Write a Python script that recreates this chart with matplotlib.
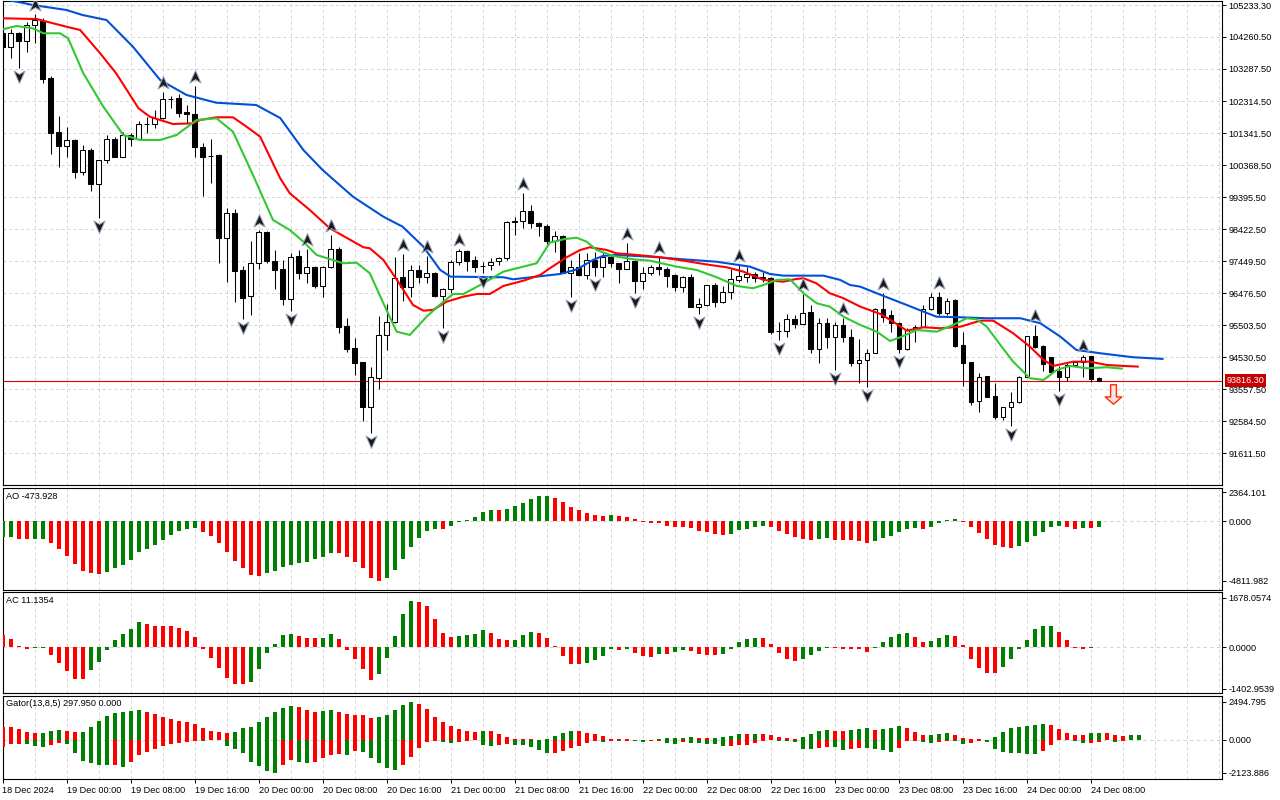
import numpy as np
import matplotlib.pyplot as plt
from matplotlib.path import Path
from matplotlib.transforms import offset_copy

plt.rcParams['font.family'] = ['Liberation Sans', 'DejaVu Sans']

# BTCUSD H1, 18 Dec 16:00 .. 24 Dec 09:00
opens = [104382, 103956, 104382, 104139, 104625, 104747, 103014, 101372, 100947, 101129,
         100157, 100825, 99791, 100521, 101160, 100612, 101281, 101160, 101605, 101615,
         101798, 102375, 102406, 101980, 101919, 100916, 100643, 100673, 98150, 98910,
         97177, 96387, 97390, 98332, 97451, 97207, 96295, 97603, 97086, 97268,
         96691, 97268, 97815, 95475, 94806, 94380, 93012, 93894, 95201, 95596,
         96964, 96660, 97177, 96964, 97086, 96387, 96599, 97420, 97755, 97481,
         97299, 97329, 97451, 97542, 98646, 98667, 98971, 98606, 98515, 98059,
         98211, 97086, 97268, 97025, 97481, 97268, 97572, 97390, 97207, 97451,
         96843, 97086, 97268, 97207, 97025, 96660, 96964, 96052, 96113, 96721,
         96204, 96508, 96873, 96964, 97055, 96944, 96934, 95323, 95323, 95687,
         95535, 95900, 94775, 95566, 95140, 95505, 95140, 94350, 94441, 94654,
         95991, 95809, 95566, 94775, 95353, 95444, 95991, 96356, 95870, 96265,
         94897, 94380, 93195, 93955, 93347, 92708, 93012, 93164, 93924, 95171,
         94867, 94532, 94107, 93924, 94289, 94380, 94563, 93894]
highs = [104473, 104503, 104412, 104716, 104959, 104838, 103075, 101859, 101524, 101160,
         100977, 100886, 100521, 101281, 101220, 101372, 101342, 101707, 101828, 102041,
         102588, 102467, 102527, 102193, 102771, 101038, 101160, 100703, 99062, 99032,
         97299, 98059, 98393, 98363, 97785, 97481, 97694, 97785, 97815, 97299,
         97299, 98241, 97876, 95718, 95110, 94380, 94228, 95779, 96143, 97572,
         97664, 97329, 97329, 97603, 97116, 96630, 97481, 97815, 97785, 97603,
         97420, 97542, 97572, 98667, 98788, 99518, 99153, 98636, 98576, 98363,
         98241, 97481, 97694, 97694, 97724, 97694, 97603, 97390, 97998, 97481,
         97268, 97329, 97572, 97268, 97055, 96995, 97055, 96326, 96721, 96782,
         96691, 97207, 97329, 97268, 97116, 97116, 96964, 95596, 95839, 95809,
         96447, 96113, 95718, 95718, 95596, 95718, 95383, 95079, 94775, 96022,
         96478, 95961, 95596, 95414, 95505, 96113, 96478, 96508, 96326, 96295,
         95292, 94380, 94046, 93955, 93742, 93012, 93468, 93955, 95171, 95505,
         94897, 94532, 94259, 94350, 94380, 94593, 94563, 93924]
lows = [103895, 103622, 103318, 103804, 104078, 102862, 100703, 100308, 100612, 99974,
        100065, 99579, 98758, 100430, 100612, 100600, 100947, 101129, 101342, 101494,
        101767, 102102, 101828, 101646, 100612, 99427, 99822, 97390, 96812, 96204,
        95687, 95809, 97207, 97390, 96599, 96113, 95931, 96903, 96782, 96630,
        96356, 97250, 95262, 94684, 93985, 92586, 92222, 93559, 94745, 95566,
        96235, 96356, 96782, 96782, 96356, 95414, 96478, 97329, 97147, 97116,
        97080, 97177, 97329, 97481, 98241, 98454, 98454, 98211, 97968, 97724,
        97086, 96356, 96995, 96903, 96995, 96964, 97268, 96782, 97207, 96478,
        96599, 97025, 97025, 96660, 96539, 96508, 96052, 95839, 96083, 96052,
        96174, 96295, 96812, 96812, 96812, 96812, 95231, 95049, 95140, 95414,
        95535, 94654, 94350, 94806, 94137, 94988, 94259, 93742, 93620, 94654,
        95596, 95292, 94654, 94745, 94988, 95444, 95961, 95809, 95809, 94836,
        93651, 93073, 92860, 93316, 92647, 92617, 92434, 93134, 93924, 94806,
        94107, 94046, 93499, 93803, 94259, 93924, 93772, 93803]
closes = [103956, 104382, 104139, 104625, 104777, 102983, 101342, 100947, 101129, 100157,
          100825, 99791, 100521, 101160, 100612, 101281, 101160, 101615, 101615, 101798,
          102375, 102385, 101950, 101919, 100916, 100612, 100650, 98150, 98910, 97147,
          96326, 97390, 98332, 97451, 97177, 96295, 97572, 97086, 97268, 96691,
          97268, 97815, 95444, 94775, 94350, 93012, 93924, 95201, 95596, 96934,
          96660, 97177, 96964, 97086, 96387, 96599, 97420, 97755, 97451, 97268,
          97309, 97420, 97542, 98636, 98656, 98971, 98606, 98515, 98059, 98211,
          97086, 97268, 97025, 97481, 97268, 97572, 97390, 97207, 97451, 96843,
          97086, 97268, 97207, 96995, 96660, 96964, 96052, 96143, 96721, 96204,
          96508, 96903, 96995, 97055, 96934, 96950, 95292, 95333, 95687, 95535,
          95870, 94775, 95566, 95140, 95505, 95140, 94350, 94441, 94654, 95991,
          95748, 95566, 94775, 95353, 95444, 95991, 96356, 95870, 96235, 94867,
          94350, 93164, 93924, 93316, 92708, 93012, 93164, 93924, 95171, 94836,
          94319, 94076, 93924, 94289, 94380, 94532, 93863, 93816.3]
last_price = 93816.3

# Alligator lines (x = bar number)
jaw_x = [0, 2.8, 3.8, 8, 10, 13, 16.3, 19.7, 23, 26.7, 31.7, 34.7, 37.6, 40, 43.8,
         47.6, 50, 52.6, 54.7, 56, 62.6, 63.8, 69.7, 71.8, 73.8, 75, 76.7, 80.9, 85, 89.2,
         93.4, 95.9, 97.6, 102.6, 104.7, 105.9, 107.2, 110.1, 113, 115.1, 116.7, 119.7, 123, 127.2, 129.7,
         132.2, 134.2, 137.2, 141.3, 145.1]
jaw_y = [105420, 105285, 105233, 105081, 104929, 104777, 103965, 102953, 102497, 102263,
         102193, 101798, 100825, 100217, 99405, 98797, 98493, 97885, 97177, 96974,
         96955, 96894, 97055, 97198, 97481, 97603, 97633, 97582, 97502, 97429,
         97278, 97055, 97004, 97004, 96873, 96721, 96669, 96387, 96113, 95909,
         95757, 95739, 95709, 95709, 95557, 95150, 94745, 94644, 94523, 94472]
teeth_x = [0, 4.25, 8, 9.7, 12.2, 14.2, 17, 18.4, 21.3, 23.8, 24.7, 26.7, 28.8, 30.5, 32.2,
           34.7, 35.9, 38.4, 40.9, 45.1, 45.9, 47.6, 49.3, 51.3, 52.6, 53.8, 55.5, 57.6, 59.3, 60.9,
           62.6, 65.1, 67.2, 68.4, 70.5, 72.2, 73.4, 75.5, 76.7, 79.3, 82.2, 85.1, 88.4, 90.5, 92.6,
           95.1, 97.6, 99.2, 100.1, 101.7, 103.4, 105.1, 107.2, 109.7, 111.3, 113, 115.1, 117.2, 119.7, 122.2,
           123.8, 126.3, 128.4, 130.1, 131.3, 133.8, 135.9, 138, 140.1, 142]
teeth_y = [104829, 104807, 104573, 104473, 103765, 103157, 102093, 101837, 101615, 101636,
           101737, 101819, 101819, 101533, 101229, 99965, 99509, 99001, 98445, 97867,
           97837, 97481, 96873, 96113, 95940, 95961, 96213, 96366, 96447, 96447,
           96691, 96852, 97025, 97229, 97563, 97785, 97867, 97785, 97685, 97633,
           97563, 97460, 97329, 97259, 97125, 96873, 96821, 96904, 96925, 96773,
           96469, 96317, 96061, 95840, 95605, 95332, 95435, 95405, 95453, 95636,
           95636, 95253, 94845, 94441, 94259, 94389, 94389, 94289, 94259, 94238]
lips_x = [0, 1.75, 3.8, 5.1, 7.2, 8.2, 10.1, 12.6, 15.1, 17.2, 19.7, 21.75, 24.25, 26.75, 28.8,
          31.3, 33.8, 35.9, 37.6, 39.25, 42.6, 44.25, 45.9, 47.6, 49.25, 50.9, 53, 55.1, 56.3, 57.6,
          60.1, 62.6, 66.75, 68.4, 70.1, 71.75, 73, 74.25, 76.3, 78.8, 80.9, 84.25, 86.75, 89.25, 91.75,
          93.8, 95.1, 96.75, 98.4, 100.1, 101.75, 103.4, 105.1, 107.2, 109.25, 110.9, 112.2, 114.25, 116.75, 118.8,
          120.5, 121.75, 123, 124.7, 126.3, 128.4, 130.1, 131.75, 133.4, 135.5, 138, 140]
lips_y = [104494, 104595, 104525, 104373, 104373, 104221, 103157, 102141, 101281, 101129,
          101129, 101281, 101737, 101789, 101381, 100065, 98697, 98393, 98037, 97633,
          97381, 97399, 97077, 96165, 95301, 95201, 95758, 96213, 96447, 96447,
          96772, 97126, 97381, 98007, 98110, 98159, 98037, 97785, 97603, 97502,
          97460, 97278, 97177, 96955, 96691, 96621, 96721, 96873, 96894, 96469,
          96165, 96061, 95757, 95505, 95301, 95018, 95131, 95353, 95301, 95505,
          95709, 95678, 95453, 94897, 94389, 93885, 93833, 94137, 94259, 94189,
          94219, 94177]

up_fractals = [4, 20, 24, 32, 38, 41, 50, 53, 57, 65, 78, 82, 92, 100, 105, 110, 117, 129, 135]
down_fractals = [2, 12, 30, 36, 46, 55, 60, 71, 74, 79, 87, 97, 104, 108, 112, 126, 132]
sell_bar = 138.8
sell_price = 93420

ao = [-1296, -1242, -1431, -1445, -1431, -1418, -1755, -2241, -2781, -3456,
      -3996, -4185, -4266, -4104, -3780, -3564, -3132, -2484, -2241, -1917,
      -1512, -1080, -783, -594, -540, -864, -1161, -1755, -2457, -3186,
      -3780, -4347, -4428, -4185, -3996, -3699, -3537, -3348, -3267, -3051,
      -2889, -2538, -2552, -2889, -3294, -3780, -4590, -4812, -4590, -3915,
      -3024, -2079, -1323, -756, -594, -608, -351, -54, 81, 351,
      756, 918, 891, 999, 1242, 1485, 1809, 2052, 2066, 1890,
      1566, 1188, 918, 675, 513, 432, 513, 432, 351, 189,
      -27, -135, -162, -351, -432, -459, -540, -756, -864, -999,
      -1107, -999, -675, -594, -459, -351, -459, -756, -1026, -1269,
      -1431, -1512, -1431, -1350, -1485, -1512, -1526, -1593, -1755, -1593,
      -1350, -1188, -864, -621, -540, -621, -459, -108, 81, 189,
      -54, -459, -945, -1431, -1917, -2106, -2160, -1998, -1674, -1188,
      -864, -459, -378, -459, -621, -540, -554, -473.928]
ac = [407, 283, 45, -45, -34, -11, -249, -520, -802, -1074,
      -1079, -757, -497, -79, 249, 452, 622, 859, 791, 723,
      718, 712, 655, 554, 350, -45, -362, -701, -1040, -1243,
      -1249, -1175, -735, -192, 113, 418, 452, 384, 316, 311,
      316, 452, 283, -79, -396, -735, -1107, -904, -362, 384,
      1130, 1559, 1548, 1401, 961, 486, 350, 384, 418, 452,
      588, 486, 283, 249, 254, 418, 520, 486, 316, 45,
      -283, -554, -559, -520, -429, -283, -45, -79, -45, -181,
      -283, -316, -215, -220, -147, -79, -113, -215, -249, -254,
      -215, -45, 181, 283, 316, 311, 113, -192, -396, -463,
      -396, -260, -124, -11, -23, -45, -51, -57, -158, -11,
      181, 350, 452, 486, 350, 181, 215, 316, 418, 384,
      90, -396, -701, -870, -876, -667, -396, -45, 249, 622,
      723, 729, 520, 249, -11, -45, -34, 11.1354]
gator_up = [868, 846, 738, 543, 477, 488, 608, 673, 608, 543,
            553, 868, 1259, 1584, 1779, 1845, 1910, 1975, 1845, 1714,
            1519, 1389, 1259, 1194, 1063, 803, 608, 543, 477, 543,
            803, 868, 1194, 1519, 1845, 2105, 2235, 2170, 1975, 1845,
            1910, 1975, 1845, 1714, 1649, 1638, 1454, 1465, 1649, 1975,
            2300, 2495, 2365, 2040, 1519, 1194, 933, 738, 608, 543,
            608, 597, 412, 217, 87, 76, 65, 20, 87, 282,
            477, 608, 597, 477, 412, 282, 87, 43, 35, 30,
            22, 20, 87, 109, 130, 152, 163, 152, 148, 156,
            217, 282, 412, 401, 412, 401, 347, 217, 152, 87,
            217, 412, 608, 673, 608, 597, 673, 738, 749, 673,
            738, 803, 933, 803, 543, 347, 358, 412, 477, 347,
            152, 87, 43, 22, 217, 543, 803, 868, 933, 998,
            1063, 998, 738, 477, 347, 336, 477, 488, 477, 340,
            290, 294, 297.95]
gator_dn = [-456, -282, -239, -282, -412, -477, -347, -217, -282, -868,
            -1389, -1519, -1649, -1660, -1649, -1779, -1454, -998, -803, -608,
            -412, -282, -217, -109, -65, -87, -22, -11, -412, -608,
            -868, -1454, -1714, -2000, -2124, -1649, -1324, -1454, -1465, -1454,
            -1194, -998, -933, -998, -738, -749, -1194, -1519, -1845, -1975,
            -1649, -1128, -543, -152, -65, -109, -217, -152, -65, -22,
            -347, -412, -347, -282, -347, -358, -477, -673, -868, -857,
            -738, -543, -412, -217, -87, -98, -65, -87, -65, -87,
            -152, -65, -33, -217, -228, -152, -163, -217, -228, -282,
            -412, -401, -347, -336, -217, -87, -22, -33, -65, -152,
            -608, -618, -543, -477, -488, -673, -608, -543, -553, -564,
            -673, -803, -543, -87, -43, -152, -217, -152, -43, -87,
            -282, -217, -87, -152, -608, -803, -814, -868, -933, -944,
            -738, -347, -22, -11, -87, -217, -195, -152, -22, -152,
            -65, 0, 0]

price_ticks = [105233.30, 104260.50, 103287.50, 102314.50, 101341.50, 100368.50, 99395.50,
               98422.50, 97449.50, 96476.50, 95503.50, 94530.50, 93557.50, 92584.50, 91611.50]
ao_ticks = [2364.101, 0.0, -4811.982]
ac_ticks = [1678.0574, 0.0, -1402.9539]
gator_ticks = [2494.795, 0.0, -2123.886]
date_labels = ['18 Dec 2024', '19 Dec 00:00', '19 Dec 08:00', '19 Dec 16:00', '20 Dec 00:00',
               '20 Dec 08:00', '20 Dec 16:00', '21 Dec 00:00', '21 Dec 08:00', '21 Dec 16:00',
               '22 Dec 00:00', '22 Dec 08:00', '22 Dec 16:00', '23 Dec 00:00', '23 Dec 08:00',
               '23 Dec 16:00', '24 Dec 00:00', '24 Dec 08:00']

GREEN = '#008000'
RED = '#ff0000'
GRID = '#d4d4d4'
FS = 6.6

fig = plt.figure(figsize=(12.8, 8), dpi=100)


def panel(top, bottom):
    # pixel rows -> figure fraction
    return fig.add_axes([2.5 / 1280, 1 - bottom / 800, 1219.5 / 1280, (bottom - top) / 800])


ax = panel(1, 485)
ax_ao = panel(488, 589.7)
ax_ac = panel(592.3, 693.3)
ax_gt = panel(695.5, 779)
axes = [ax, ax_ao, ax_ac, ax_gt]

for a in axes:
    a.set_xlim(0, 152.4)
    a.set_facecolor('white')
    for s in a.spines.values():
        s.set_color('black')
        s.set_linewidth(0.8)
    for gx in range(4, 153, 4):
        a.axvline(gx, color=GRID, lw=0.7, ls=(0, (3, 3)), zorder=0)
    a.yaxis.tick_right()
    a.tick_params(axis='y', direction='out', length=3, width=0.7, pad=1.5, labelsize=FS)
    a.tick_params(axis='x', bottom=False, labelbottom=False)

# ---- price panel ----
ax.set_ylim(90639, 105355)
ax.set_yticks(price_ticks)
ax.set_yticklabels(['%.2f' % p for p in price_ticks])
for p in price_ticks:
    ax.axhline(p, color=GRID, lw=0.7, ls=(0, (3, 3)), zorder=0)

x = np.arange(len(closes))
o = np.array(opens, dtype=float)
c = np.array(closes, dtype=float)
bull = c >= o
ax.vlines(x, lows, highs, color='black', lw=0.75, zorder=2)
ax.bar(x, np.abs(c - o), bottom=np.minimum(o, c), width=0.55,
       color=np.where(bull, 'white', 'black'), edgecolor='black', linewidth=0.75, zorder=3)

ax.plot(jaw_x, jaw_y, color='#0050d8', lw=1.5, zorder=4, solid_capstyle='butt')
ax.plot(teeth_x, teeth_y, color=RED, lw=1.5, zorder=4, solid_capstyle='butt')
ax.plot(lips_x, lips_y, color='#32c832', lw=1.5, zorder=4, solid_capstyle='butt')

ax.axhline(last_price, color='#e00000', lw=0.8, zorder=1.5)
ax.annotate('%.2f' % last_price, xy=(1, last_price), xycoords=ax.get_yaxis_transform(),
            xytext=(3.2, 0), textcoords='offset points', ha='left', va='center',
            fontsize=FS, color='white', annotation_clip=False,
            bbox=dict(boxstyle='square,pad=0.2', fc='#c80000', ec='none'))

up_mark = Path([(0, 1), (0.8, -0.8), (0, -0.3), (-0.8, -0.8), (0, 1)],
               [Path.MOVETO, Path.LINETO, Path.LINETO, Path.LINETO, Path.CLOSEPOLY])
dn_mark = Path([(0, -1), (0.8, 0.8), (0, 0.3), (-0.8, 0.8), (0, -1)],
               [Path.MOVETO, Path.LINETO, Path.LINETO, Path.LINETO, Path.CLOSEPOLY])
tr_up = offset_copy(ax.transData, fig=fig, x=0, y=9, units='dots')
tr_dn = offset_copy(ax.transData, fig=fig, x=0, y=-8, units='dots')
ax.plot(up_fractals, [highs[i] for i in up_fractals], ls='none', marker=up_mark, ms=10,
        mfc='#1a1a1a', mec='#9aa8c0', mew=0.7, transform=tr_up, zorder=5)
ax.plot(down_fractals, [lows[i] for i in down_fractals], ls='none', marker=dn_mark, ms=10,
        mfc='#1a1a1a', mec='#9aa8c0', mew=0.7, transform=tr_dn, zorder=5)

sell_mark = Path([(-0.3, 1), (0.3, 1), (0.3, -0.25), (0.85, -0.25), (0, -1), (-0.85, -0.25),
                  (-0.3, -0.25), (-0.3, 1)],
                 [Path.MOVETO] + [Path.LINETO] * 6 + [Path.CLOSEPOLY])
ax.plot([sell_bar], [sell_price], ls='none', marker=sell_mark, ms=14,
        mfc='#ffe4e4', mec='#ff2a00', mew=1.0, zorder=5)

# ---- oscillators ----


def hist(a, vals, first_green, absolute=False):
    v = np.array(vals, dtype=float)
    m = np.abs(v) if absolute else v
    cols = [GREEN if first_green else RED]
    cols += [GREEN if m[k] > m[k - 1] else RED for k in range(1, len(v))]
    keep = v != 0
    a.bar(np.arange(len(v))[keep], v[keep], width=0.5,
          color=np.array(cols)[keep], zorder=3, linewidth=0)


ax_ao.set_ylim(-5540, 2697)
hist(ax_ao, ao, True)
ax_ao.set_yticks(ao_ticks)
ax_ao.set_yticklabels(['%.3f' % t for t in ao_ticks])

ax_ac.set_ylim(-1559, 1864)
hist(ax_ac, ac, False)
ax_ac.set_yticks(ac_ticks)
ax_ac.set_yticklabels(['%.4f' % t for t in ac_ticks])

ax_gt.set_ylim(-2539, 2897)
hist(ax_gt, gator_up, False, absolute=True)
hist(ax_gt, gator_dn, False, absolute=True)
ax_gt.set_yticks(gator_ticks)
ax_gt.set_yticklabels(['%.3f' % t for t in gator_ticks])

for a in (ax_ao, ax_ac, ax_gt):
    a.axhline(0, color=GRID, lw=0.8, ls=(0, (3, 3)), zorder=1)

titles = ['AO %.3f' % ao[-1], 'AC %.4f' % ac[-1],
          'Gator(13,8,5) %.3f %.3f' % (gator_up[-1], abs(gator_dn[-1]))]
for a, t in zip((ax_ao, ax_ac, ax_gt), titles):
    a.annotate(t, xy=(0, 1), xycoords='axes fraction', xytext=(2.6, -2.6),
               textcoords='offset points', ha='left', va='top', fontsize=FS, zorder=6)

ax_gt.tick_params(axis='x', bottom=True, labelbottom=True, direction='out',
                  length=3, width=0.7, pad=2, labelsize=FS)
ax_gt.set_xticks(np.arange(len(date_labels)) * 8)
ax_gt.set_xticklabels(date_labels, ha='left')

fig.savefig('out.png', dpi=100)
